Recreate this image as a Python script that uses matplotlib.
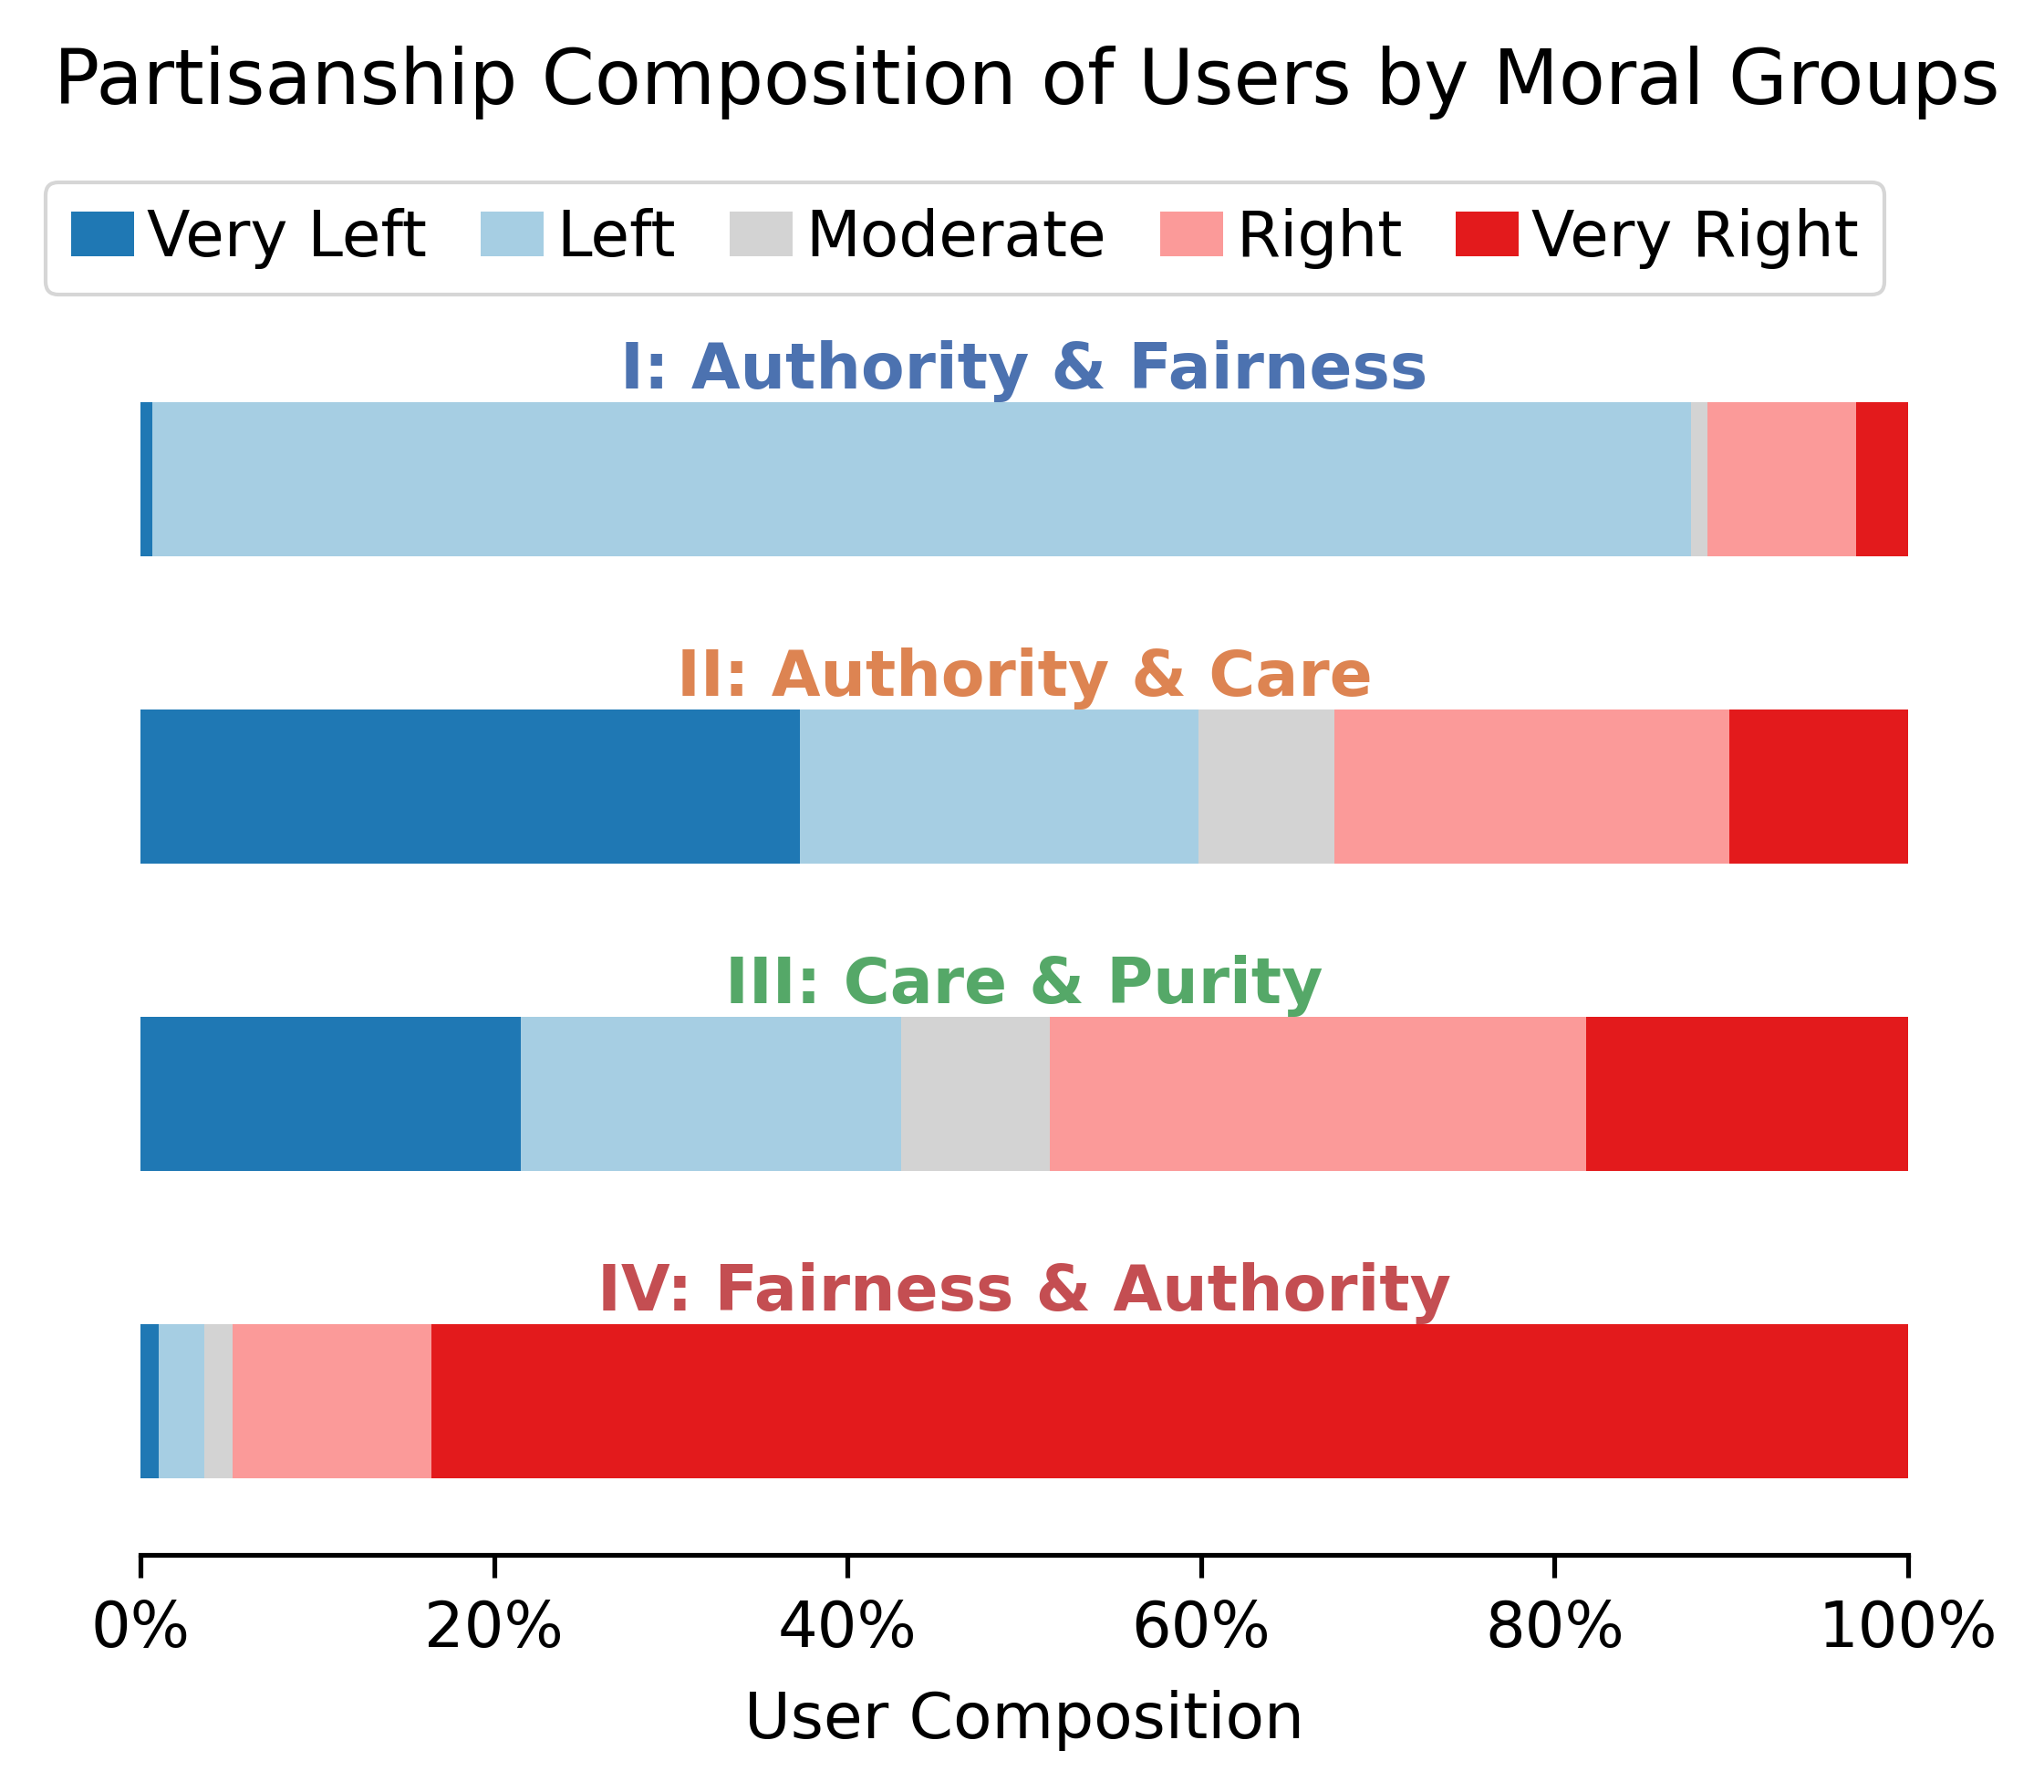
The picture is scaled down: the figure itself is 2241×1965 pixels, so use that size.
import matplotlib
matplotlib.use("Agg")
import matplotlib.pyplot as plt
import numpy as np
from matplotlib.patches import Patch

groups = ["I: Authority & Fairness", "II: Authority & Care", "III: Care & Purity", "IV: Fairness & Authority"]
group_colors = ["#4c72b0", "#dd8452", "#55a868", "#c44e52"]
categories = ["Very Left", "Left", "Moderate", "Right", "Very Right"]
cat_colors = ["#1f78b4", "#a6cee3", "#d3d3d3", "#fb9a99", "#e31a1c"]

very_left = [0.67, 37.30, 21.51, 1.03]
left = [87.05, 22.55, 21.51, 2.58]
moderate = [0.93, 7.69, 8.42, 1.60]
right = [8.41, 22.35, 30.35, 11.25]
very_right = [2.94, 10.11, 18.21, 83.54]

series = [very_left, left, moderate, right, very_right]

plt.rcParams["font.family"] = ["DejaVu Sans"]
fig = plt.figure(figsize=(2241 / 300, 1965 / 300), dpi=300)
ax = fig.add_axes([0.0687, 0.1323, 0.8648, 0.686])

y = np.arange(len(groups))
left_acc = np.zeros(len(groups))
for vals, col, name in zip(series, cat_colors, categories):
    v = np.array(vals)
    ax.barh(y, v, left=left_acc, height=0.5, color=col, label=name, linewidth=0)
    left_acc += v

for i, (g, c) in enumerate(zip(groups, group_colors)):
    ax.text(50, i - 0.25, g, ha="center", va="bottom", color=c,
            fontsize=16.7, fontweight="bold")

ax.set_ylim(3.5, -0.5)
ax.set_xlim(0, 100)
ax.set_yticks([])
ax.set_xticks([0, 20, 40, 60, 80, 100])
ax.set_xticklabels(["0%", "20%", "40%", "60%", "80%", "100%"])
ax.tick_params(axis="x", labelsize=16.5, length=6, width=1.25, pad=5.5)
for s in ["top", "right", "left"]:
    ax.spines[s].set_visible(False)
ax.spines["bottom"].set_linewidth(1.25)
ax.set_xlabel("User Composition", fontsize=16.7, labelpad=8)

handles = [Patch(facecolor=c, label=n) for c, n in zip(cat_colors, categories)]
leg = fig.legend(handles=handles, loc="upper left", bbox_to_anchor=(0.0223, 0.8982),
                 ncol=5, fontsize=16.65, frameon=True, handlelength=1.0, handleheight=0.7,
                 handletextpad=0.2, columnspacing=0.85, borderaxespad=0)
leg.get_frame().set_edgecolor("0.8")
leg.get_frame().set_linewidth(1.0)

fig.text(0.5025, 1 - 114 / 1965, "Partisanship Composition of Users by Moral Groups",
         ha="center", va="baseline", fontsize=20)

fig.savefig("out.png", dpi=300)
